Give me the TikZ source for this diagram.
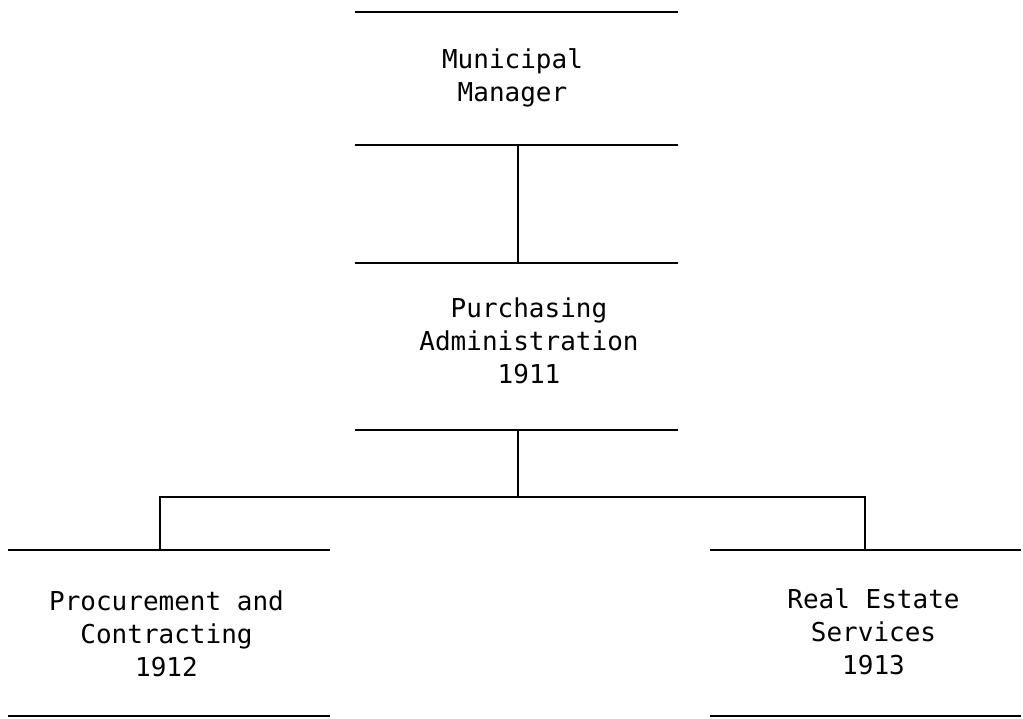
\documentclass[tikz,border=0pt]{standalone}
\usepackage{fontspec}
\newfontfamily\typew{DejaVu Sans Mono}
\begin{document}
\begin{tikzpicture}[x=1pt,y=-1pt,
  rule/.style={line width=1.6pt, black},
  unit/.style={draw=none, rectangle, inner sep=0pt},
  label/.style={font=\typew\fontsize{26}{33}\selectfont, align=center, inner sep=0pt}]
\useasboundingbox (0,0) rectangle (1023,718);
% unit frames (top and bottom rules only)
\node[unit, minimum width=323pt, minimum height=133pt] (mm) at (516.5,78.5) {};
\node[unit, minimum width=323pt, minimum height=167pt] (pa) at (516.5,346.5) {};
\node[unit, minimum width=322pt, minimum height=166pt] (pc) at (169,633) {};
\node[unit, minimum width=311pt, minimum height=166pt] (re) at (865.5,633) {};
\foreach \u in {mm,pa,pc,re}{
  \draw[rule] (\u.north west) -- (\u.north east);
  \draw[rule] (\u.south west) -- (\u.south east);
}
% texts
\node[label] (mmt) at (512.5,78) {Municipal\\Manager};
\node[label] (pat) at (529,341) {Purchasing\\Administration\\1911};
\node[label] (pct) at (166.5,633.5) {Procurement and\\Contracting\\1912};
\node[label] (ret) at (873.5,632) {Real Estate\\Services\\1913};
% connectors
\coordinate (bus) at (518,497);
\draw[rule] ([xshift=1.5pt]mm.south) -- ([xshift=1.5pt]pa.north);
\draw[rule] ([xshift=1.5pt]pa.south) -- (bus);
\draw[rule] (bus) -| ([xshift=-9pt]pc.north);
\draw[rule] (bus) -| ([xshift=-0.5pt]re.north);
\end{tikzpicture}
\end{document}
